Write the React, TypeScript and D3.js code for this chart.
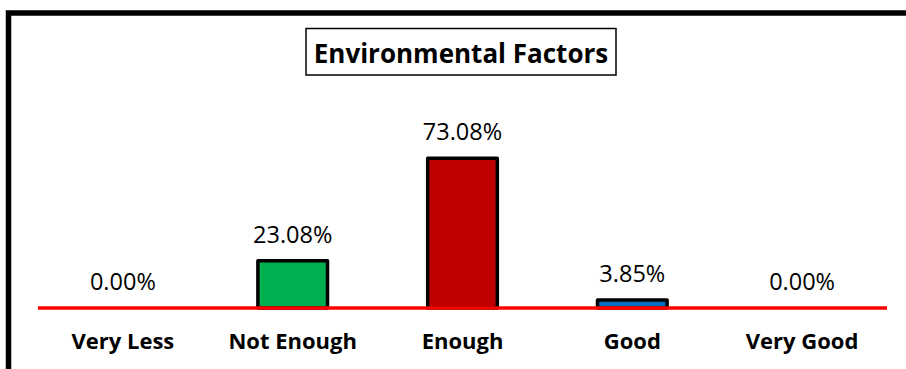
import React from "react";
import * as d3 from "d3";

const categories = ["Very Less", "Not Enough", "Enough", "Good", "Very Good"];
const values = [0, 23.08, 73.08, 3.85, 0];
const colors = ["#4472C4", "#00B050", "#C00000", "#0070C0", "#4472C4"];
const title = "Environmental Factors";

const W = 906;
const H = 369;

export default function App() {
  const x = d3.scaleBand<string>().domain(categories).range([38, 887]).padding(0);
  const y = d3.scaleLinear().domain([0, 80]).range([308, 144]);
  const barW = x.bandwidth() * 0.41;
  const font = "'Open Sans', Lato, sans-serif";

  return (
    <svg
      width={W}
      height={H}
      style={{ position: "absolute", left: 0, top: 0, background: "#fff" }}
    >
      <rect x={0} y={0} width={W} height={H} fill="#fff" />
      {/* outer frame (clipped on right and bottom) */}
      <rect x={8.5} y={13} width={W + 20} height={H + 20} fill="none" stroke="#000" strokeWidth={5.5} />
      {/* title box */}
      <rect x={306} y={28.5} width={310} height={46.5} fill="#fff" stroke="#000" strokeWidth={1.5} />
      <text x={461} y={63} textAnchor="middle" fontFamily={font} fontWeight="bold" fontSize={26} fill="#000">
        {title}
      </text>
      {/* bars */}
      {categories.map((c, i) => {
        const cx = (x(c) as number) + x.bandwidth() / 2;
        const top = y(values[i]);
        return (
          <g key={c}>
            {values[i] > 0 && (
              <rect
                x={cx - barW / 2}
                y={top}
                width={barW}
                height={y(0) - top}
                fill={colors[i]}
                stroke="#000"
                strokeWidth={3.5}
                strokeLinejoin="round"
              />
            )}
            <text x={cx} y={top - 18} textAnchor="middle" fontFamily={font} fontSize={23.5} fill="#000">
              {values[i].toFixed(2) + "%"}
            </text>
            <text x={cx} y={349} textAnchor="middle" fontFamily={font} fontWeight="bold" fontSize={22} fill="#000">
              {c}
            </text>
          </g>
        );
      })}
      {/* axis line */}
      <line x1={38} x2={887} y1={y(0)} y2={y(0)} stroke="#FF0000" strokeWidth={3.5} />
    </svg>
  );
}
